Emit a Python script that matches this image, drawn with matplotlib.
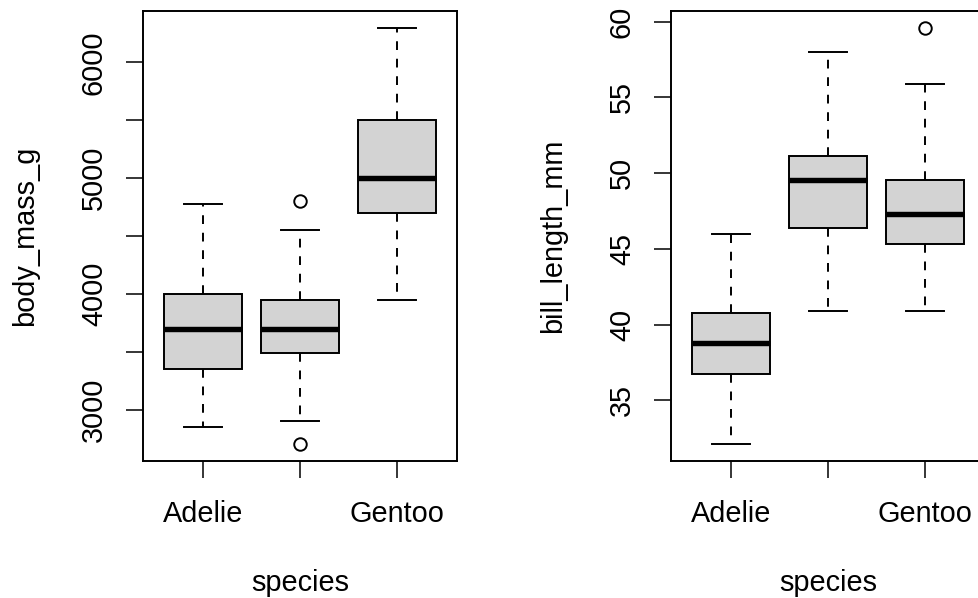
import numpy as np
import matplotlib
matplotlib.use("Agg")
import matplotlib.pyplot as plt

plt.rcParams['font.family'] = ['Liberation Sans', 'DejaVu Sans']

species = ["Adelie", "Chinstrap", "Gentoo"]
tick_labels = ["Adelie", "", "Gentoo"]

# body_mass_g five-number summaries + outliers
mass_whislo = [2850, 2900, 3950]
mass_q1 = [3350, 3487.5, 4700]
mass_med = [3700, 3700, 5000]
mass_q3 = [4000, 3950, 5500]
mass_whishi = [4775, 4550, 6300]
mass_fliers = [[], [4800, 2700], []]

# bill_length_mm
bill_whislo = [32.1, 40.9, 40.9]
bill_q1 = [36.75, 46.35, 45.3]
bill_med = [38.8, 49.55, 47.3]
bill_q3 = [40.75, 51.1, 49.55]
bill_whishi = [46.0, 58.0, 55.9]
bill_fliers = [[], [], [59.6]]

mass_ticks = [3000, 3500, 4000, 4500, 5000, 5500, 6000]
mass_ticklabels = ["3000", "", "4000", "", "5000", "", "6000"]
bill_ticks = [35, 40, 45, 50, 55, 60]
bill_ticklabels = ["35", "40", "45", "50", "55", "60"]

FS = 20.8
W, H = 979, 598


def make_stats(lo, q1, med, q3, hi, fl):
    out = []
    for i in range(len(species)):
        out.append(dict(whislo=lo[i], q1=q1[i], med=med[i], q3=q3[i],
                        whishi=hi[i], fliers=fl[i], label=species[i]))
    return out


def draw(ax, stats, yticks, yticklabels, ylabel):
    ax.bxp(stats, positions=[1, 2, 3], widths=0.8, capwidths=0.4,
           patch_artist=True, showfliers=True,
           boxprops=dict(facecolor="#d3d3d3", edgecolor="black", linewidth=1.4),
           medianprops=dict(color="black", linewidth=3.9, solid_capstyle="butt"),
           whiskerprops=dict(color="black", linewidth=1.4, linestyle=(0, (4.5, 4.5))),
           capprops=dict(color="black", linewidth=1.4),
           flierprops=dict(marker="o", markerfacecolor="none", markeredgecolor="black",
                           markersize=9, markeredgewidth=1.4))
    # R style axis range: data range plus 4% each side
    vals = [v for s in stats for v in (s["whislo"], s["whishi"], *s["fliers"])]
    lo, hi = min(vals), max(vals)
    pad = (hi - lo) * 0.04
    ax.set_ylim(lo - pad, hi + pad)
    ax.set_xlim(0.38, 3.62)
    ax.set_xticks([1, 2, 3])
    ax.set_xticklabels(tick_labels, fontsize=FS)
    ax.set_yticks(yticks)
    ax.set_yticklabels(yticklabels, fontsize=FS, rotation=90, va="center")
    ax.tick_params(axis="both", length=12.2, width=1.1, direction="out")
    ax.tick_params(axis="x", pad=16)
    ax.tick_params(axis="y", pad=13)
    for sp in ax.spines.values():
        sp.set_linewidth(1.4)
    ax.set_xlabel("species", fontsize=FS, va="baseline")
    ax.xaxis.set_label_coords(0.5, (7 - 137) / 450)
    ax.set_ylabel(ylabel, fontsize=FS, va="baseline")
    ax.yaxis.set_label_coords(-110 / 314, 0.5)


fig = plt.figure(figsize=(W / 100, H / 100), dpi=100)
ax1 = fig.add_axes([143 / W, 137 / H, 314 / W, 450 / H])
ax2 = fig.add_axes([671 / W, 137 / H, 314 / W, 450 / H])

draw(ax1, make_stats(mass_whislo, mass_q1, mass_med, mass_q3, mass_whishi, mass_fliers),
     mass_ticks, mass_ticklabels, "body_mass_g")
draw(ax2, make_stats(bill_whislo, bill_q1, bill_med, bill_q3, bill_whishi, bill_fliers),
     bill_ticks, bill_ticklabels, "bill_length_mm")

fig.savefig("out.png", dpi=100)
